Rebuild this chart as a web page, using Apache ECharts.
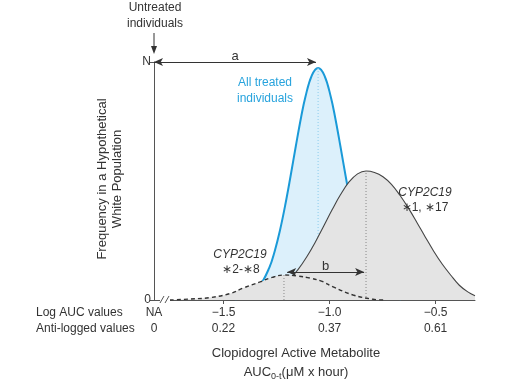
<!DOCTYPE html>
<html><head><meta charset="utf-8">
<script src="https://cdn.jsdelivr.net/npm/echarts@6/dist/echarts.min.js"></script>
<style>html,body{margin:0;padding:0;background:#fff}#c{width:515px;height:385px}</style>
</head><body><div id="c"></div>
<script>
// ---- axis ranges & tick labels ----
const X_MIN = -1.828, X_MAX = -0.314;
const xTickValues = [-1.828, -1.5, -1.0, -0.5];
const logLabels = ['NA', '\u22121.5', '\u22121.0', '\u22120.5'];
const antiLogLabels = ['0', '0.22', '0.37', '0.61'];
const yTickValues = [0, 100];
const yTickLabels = ['0', 'N'];

// ---- all treated individuals (blue) ----
const treatedX = [-1.444, -1.384, -1.334, -1.284, -1.259, -1.234, -1.209, -1.184, -1.159, -1.134, -1.114, -1.084, -1.054,
                  -1.024, -0.994, -0.974, -0.949, -0.924, -0.899, -0.874, -0.849, -0.824, -0.774, -0.724, -0.664];
const treatedY = [0.3, 1.7, 5.3, 13.6, 20.4, 29.2, 39.9, 52.0, 64.7, 76.9, 85.3, 94.3, 97.5,
                  94.3, 85.3, 76.9, 64.7, 52.0, 39.9, 29.2, 20.4, 13.6, 5.3, 1.7, 0.3];

// ---- CYP2C19 *1, *17 (gray solid) ----
const extensiveX = [-1.488, -1.388, -1.308, -1.228, -1.188, -1.148, -1.108, -1.068, -1.028, -0.988, -0.948, -0.908, -0.868, -0.828,
                    -0.788, -0.748, -0.708, -0.668, -0.628, -0.588, -0.548, -0.508, -0.468, -0.428, -0.388, -0.348, -0.314];
const extensiveY = [0.1, 0.7, 2.2, 5.8, 8.8, 12.9, 18.1, 24.2, 31.0, 37.9, 44.3, 49.6, 53.0, 54.2,
                    53.6, 51.8, 48.6, 44.0, 38.6, 32.6, 26.4, 20.4, 15.0, 10.4, 6.2, 3.4, 1.8];

// ---- CYP2C19 *2-*8 (dashed) ----
const reducedX = [-1.753, -1.659, -1.564, -1.469, -1.408, -1.328, -1.271, -1.215, -1.153, -1.092, -1.035, -0.983, -0.889, -0.795, -0.738];
const reducedY = [0, 0.4, 1.0, 2.7, 5.0, 7.6, 9.5, 10.5, 10.1, 9.2, 7.8, 5.5, 2.1, 0.3, 0];

// ---- peaks & annotation arrows ----
const treatedPeak = [-1.054, 97.5];
const extensivePeak = [-0.828, 54.2];
const reducedPeak = [-1.215, 10.5];
const arrowA = [[-1.828, 100], [-1.064, 100]];
const arrowB = [[-1.200, 11.8], [-0.837, 11.8]];

const FONT = '"Liberation Sans", Arial, Helvetica, sans-serif';
const TXT = '#333';
const AX = '#555';

function pairs(xs, ys) { return xs.map((x, i) => [x, ys[i]]); }
function idxOf(arr, v) { for (let i = 0; i < arr.length; i++) if (Math.abs(arr[i] - v) < 1e-6) return i; return -1; }

const chart = echarts.init(document.getElementById('c'), null, { renderer: 'canvas' });
const option = {
  animation: false,
  backgroundColor: '#fff',
  textStyle: { fontFamily: FONT },
  grid: { left: 154, right: 40, top: 62, bottom: 85, containLabel: false, outerBoundsMode: 'none' },
  xAxis: {
    type: 'value', min: X_MIN, max: X_MAX,
    splitLine: { show: false },
    axisLine: { show: true, lineStyle: { color: AX, width: 1 } },
    axisTick: { show: true, customValues: xTickValues.slice(1), length: 4, lineStyle: { color: AX } },
    axisLabel: {
      show: true, customValues: xTickValues, margin: 5,
      formatter: function (v) {
        const i = idxOf(xTickValues, v);
        if (i < 0) return '';
        return '{t|' + logLabels[i] + '}\n{t|' + antiLogLabels[i] + '}';
      },
      rich: { t: { fontSize: 12, lineHeight: 16, color: TXT, fontFamily: FONT } }
    }
  },
  yAxis: {
    type: 'value', min: 0, max: 100,
    splitLine: { show: false },
    axisLine: { show: true, lineStyle: { color: AX, width: 1 } },
    axisTick: { show: true, customValues: yTickValues, length: 4, lineStyle: { color: AX } },
    axisLabel: {
      show: true, customValues: yTickValues, margin: 3, color: TXT, fontSize: 12, fontFamily: FONT,
      formatter: function (v) { const i = idxOf(yTickValues, v); return i < 0 ? '' : yTickLabels[i]; }
    }
  },
  series: [
    {
      name: 'All treated individuals', type: 'line', z: 2, smooth: 0.4, symbol: 'none',
      data: pairs(treatedX, treatedY),
      lineStyle: { color: '#1a9ad8', width: 2 },
      areaStyle: { color: '#dcf0fb', opacity: 1 }
    },
    {
      type: 'line', z: 3, symbol: 'none', silent: true,
      data: [[treatedPeak[0], 0], treatedPeak],
      lineStyle: { color: '#8ccbec', width: 1, type: [1, 2] }
    },
    {
      name: 'CYP2C19 *1, *17', type: 'line', z: 4, smooth: 0.4, symbol: 'none',
      data: pairs(extensiveX, extensiveY),
      lineStyle: { color: '#444', width: 1.1 },
      areaStyle: { color: '#e4e4e4', opacity: 1 }
    },
    {
      type: 'line', z: 5, symbol: 'none', silent: true,
      data: [[extensivePeak[0], 0], extensivePeak],
      lineStyle: { color: '#888', width: 1, type: [1, 2] }
    },
    {
      name: 'CYP2C19 *2-*8', type: 'line', z: 6, smooth: 0.4, symbol: 'none',
      data: pairs(reducedX, reducedY),
      lineStyle: { color: '#333', width: 1.4, type: [4, 3] },
      areaStyle: { color: '#e4e4e4', opacity: 1 }
    },
    {
      type: 'line', z: 7, symbol: 'none', silent: true,
      data: [[reducedPeak[0], 0], reducedPeak],
      lineStyle: { color: '#888', width: 1, type: [1, 2] }
    },
    {
      type: 'line', z: 8, data: [], symbol: 'none',
      markLine: {
        z: 10, silent: true, symbol: ['arrow', 'arrow'], symbolSize: [6, 9], precision: 3,
        lineStyle: { type: 'solid', color: '#333', width: 1 },
        label: { show: true, position: 'middle', distance: -1, color: TXT, fontSize: 13, fontFamily: FONT },
        emphasis: { disabled: true },
        data: [
          [{ coord: arrowA[0], label: { formatter: 'a' } }, { coord: arrowA[1] }],
          [{ coord: arrowB[0], label: { formatter: 'b' } }, { coord: arrowB[1] }]
        ]
      }
    }
  ],
  graphic: [
    { type: 'text', x: 155, y: 16, z: 100, style: { text: 'Untreated\nindividuals', fill: TXT, font: '12px ' + FONT, align: 'center', verticalAlign: 'middle', lineHeight: 16 } },
    { type: 'line', z: 100, shape: { x1: 154, y1: 33, x2: 154, y2: 48 }, style: { stroke: '#333', lineWidth: 1 } },
    { type: 'polygon', z: 100, shape: { points: [[151, 46], [157, 46], [154, 54]] }, style: { fill: '#333' } },
    { type: 'text', x: 265, y: 91, z: 100, style: { text: 'All treated\nindividuals', fill: '#27a3dd', font: '12px ' + FONT, align: 'center', verticalAlign: 'middle', lineHeight: 16 } },
    { type: 'text', x: 425, y: 193, z: 100, style: { text: 'CYP2C19', fill: TXT, font: 'italic 12px ' + FONT, align: 'center', verticalAlign: 'middle' } },
    { type: 'text', x: 425, y: 208, z: 100, style: { text: '\u22171, \u221717', fill: TXT, font: '12px ' + FONT, align: 'center', verticalAlign: 'middle' } },
    { type: 'text', x: 240, y: 255, z: 100, style: { text: 'CYP2C19', fill: TXT, font: 'italic 12px ' + FONT, align: 'center', verticalAlign: 'middle' } },
    { type: 'text', x: 241, y: 270, z: 100, style: { text: '\u22172-\u22178', fill: TXT, font: '12px ' + FONT, align: 'center', verticalAlign: 'middle' } },
    { type: 'text', x: 36, y: 313, z: 100, style: { text: 'Log AUC values', fill: TXT, font: '12px ' + FONT, align: 'left', verticalAlign: 'middle' } },
    { type: 'text', x: 36, y: 329, z: 100, style: { text: 'Anti-logged values', fill: TXT, font: '12px ' + FONT, align: 'left', verticalAlign: 'middle' } },
    { type: 'text', x: 296, y: 353, z: 100, style: { text: 'Clopidogrel Active Metabolite', fill: TXT, font: '13px ' + FONT, align: 'center', verticalAlign: 'middle' } },
    { type: 'text', x: 296, y: 372, z: 100, style: {
        text: '{n|AUC}{s|0-t}{n|(\u03bcM x hour)}', align: 'center', verticalAlign: 'middle',
        rich: {
          n: { fontSize: 13, lineHeight: 18, fill: TXT, color: TXT, fontFamily: FONT, verticalAlign: 'middle' },
          s: { fontSize: 9, lineHeight: 9, fill: TXT, color: TXT, fontFamily: FONT, verticalAlign: 'bottom' }
        } } },
    { type: 'text', x: 110, y: 179, z: 100, rotation: Math.PI / 2, style: { text: 'Frequency in a Hypothetical\nWhite Population', fill: TXT, font: '13px ' + FONT, align: 'center', verticalAlign: 'middle', lineHeight: 15 } },
    // axis break
    { type: 'rect', z: 100, shape: { x: 160, y: 298, width: 10, height: 4 }, style: { fill: '#fff' } },
    { type: 'line', z: 101, shape: { x1: 160, y1: 303, x2: 164, y2: 296 }, style: { stroke: AX, lineWidth: 1 } },
    { type: 'line', z: 101, shape: { x1: 165, y1: 303, x2: 169, y2: 296 }, style: { stroke: AX, lineWidth: 1 } }
  ]
};
chart.setOption(option);
</script>
</body></html>
